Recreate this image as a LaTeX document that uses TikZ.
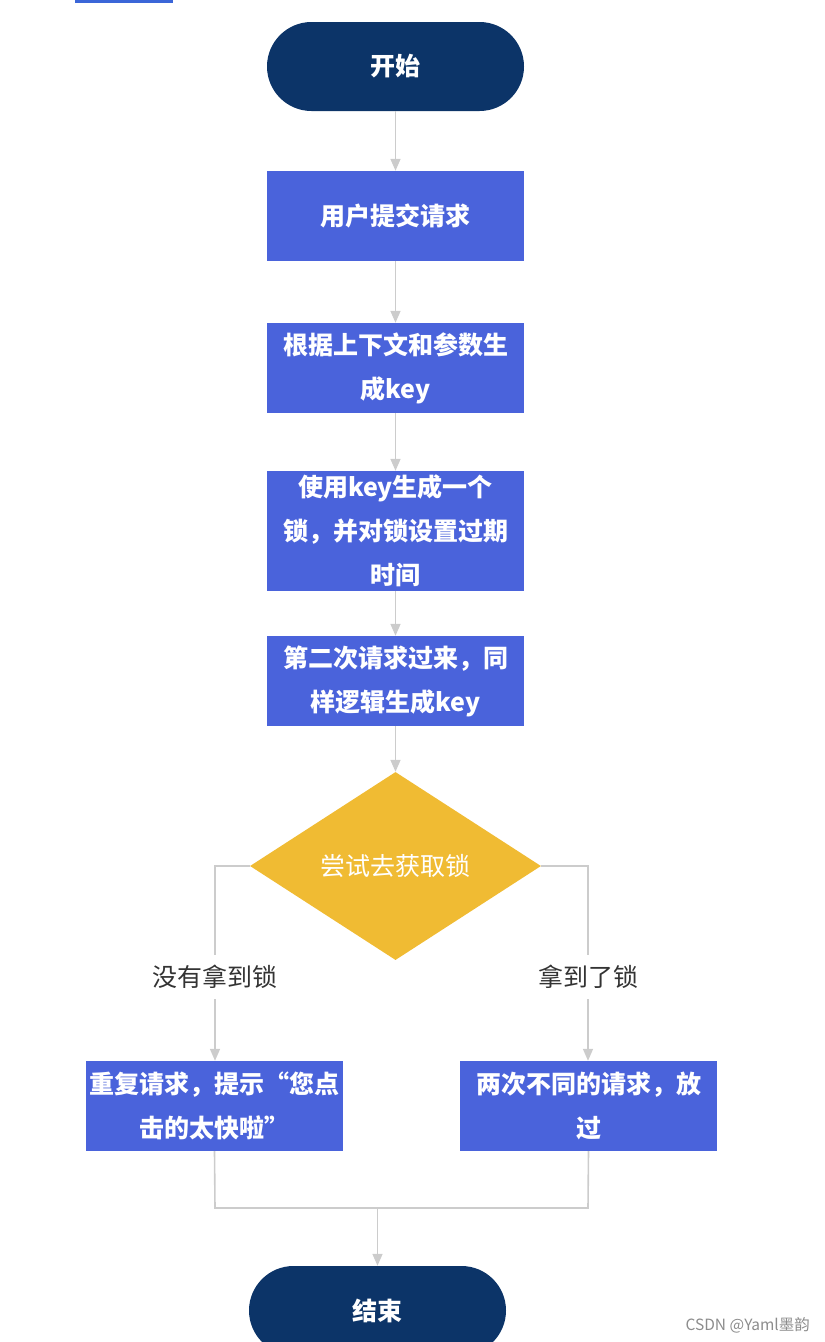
\documentclass[tikz,border=0pt]{standalone}
\usepackage{fontspec}
\usetikzlibrary{arrows.meta,shapes.geometric}
\setmainfont{Noto Sans CJK SC}
\newfontfamily\cjk{Noto Sans CJK SC}
\definecolor{navy}{HTML}{0C3468}
\definecolor{boxblue}{HTML}{4A63DB}
\definecolor{dyellow}{HTML}{F0BB33}
\definecolor{lgray}{HTML}{CCCCCC}
\definecolor{labgray}{HTML}{333333}
\definecolor{topblue}{HTML}{3B66D8}
\tikzset{
  x=1pt, y=-1pt,
  terminal/.style={fill=navy, text=white, rounded corners=44.5pt, minimum width=257pt, minimum height=89pt, inner sep=0pt, font=\cjk\bfseries\fontsize{25}{44}\selectfont},
  procbox/.style={fill=boxblue, text=white, minimum width=257pt, inner sep=0pt, align=center, font=\cjk\bfseries\fontsize{25}{44}\selectfont},
  decision/.style={shape=diamond, fill=dyellow, text=white, minimum width=291pt, minimum height=188pt, inner sep=0pt, aspect=1.55, font=\cjk\fontsize{25}{44}\selectfont},
  brlabel/.style={text=labgray, inner sep=0pt, minimum height=44pt, font=\cjk\fontsize{25}{44}\selectfont},
  conn/.style={draw=lgray, line width=1.6pt},
  arr/.style={conn, -{Triangle[width=10pt,length=12pt]}},
}
\begin{document}
\begin{tikzpicture}
\useasboundingbox (0,0) rectangle (825,1342);
\clip (0,0) rectangle (825,1342);
\fill[topblue] (75,0) rectangle (173,2.5);

\node[terminal] (start) at (395.5,66.5) {开始};
\node[procbox, minimum height=90pt] (b1) at (395.5,216) {用户提交请求};
\node[procbox, minimum height=90pt] (b2) at (395.5,368) {根据上下文和参数生\\成key};
\node[procbox, minimum height=120pt] (b3) at (395.5,531) {使用key生成一个\\锁，并对锁设置过期\\时间};
\node[procbox, minimum height=90pt] (b4) at (395.5,681) {第二次请求过来，同\\样逻辑生成key};
\node[decision] (dec) at (395.5,866) {尝试去获取锁};
\node[brlabel] (ln) at (215,977) {没有拿到锁};
\node[brlabel] (ly) at (588,977) {拿到了锁};
\node[procbox, minimum height=90pt] (bl) at (214.5,1106) {重复请求，提示“您点\\击的太快啦”};
\node[procbox, minimum height=90pt] (br) at (588.5,1106) {两次不同的请求，放\\过};
\node[terminal] (end) at (377.5,1310.5) {结束};
\coordinate (dl) at (215,866);
\coordinate (dr) at (588,866);
\coordinate (ml) at (215,1208);
\coordinate (mr) at (588,1208);
\coordinate (mm) at (377.5,1208);

\draw[arr] (start) -- (b1);
\draw[arr] (b1) -- (b2);
\draw[arr] (b2) -- (b3);
\draw[arr] (b3) -- (b4);
\draw[arr] (b4) -- (dec);
\draw[conn] (dec.west) -- (dl) -- (ln.north);
\draw[arr] (ln.south) -- (ln.south |- bl.north);
\draw[conn] (dec.east) -- (dr) -- (ly.north);
\draw[arr] (ly.south) -- (ly.south |- br.north);
\draw[conn] (bl.south) -- (ml) -- (mr) -- (br.south);
\draw[arr] (mm) -- (end.north);

\node[anchor=east, text=black!45, inner sep=0pt, font=\cjk\fontsize{15.5}{18}\selectfont] (wm) at (810,1325) {CSDN @Yaml墨韵};
\end{tikzpicture}
\end{document}
